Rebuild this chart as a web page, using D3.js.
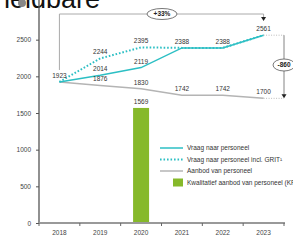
<!DOCTYPE html>
<html>
<head>
<meta charset="utf-8">
<script src="https://cdn.jsdelivr.net/npm/d3@7"></script>
<style>
  body { margin: 0; background: white; }
  svg { display: block; }
</style>
</head>
<body>
<div id="app"></div>
<script>
const WIDTH = 293
const HEIGHT = 240

const years = ['2018', '2019', '2020', '2021', '2022', '2023']
const vraag = [1923, 2014, 2119, 2388, 2388, 2561]
const vraagGrit = [1923, 2244, 2395, 2388, 2388, 2561]
const aanbod = [1923, 1876, 1830, 1742, 1742, 1700]
const kwalitatief = [null, null, 1569, null, null, null]
const yTicks = [0, 500, 1000, 1500, 2000, 2500]
const growthLabel = '+33%'
const gapLabel = '-860'

// which values get a label, per series
const vraagLabels = [false, true, true, false, false, false]
const gritLabels = [true, true, true, true, true, true]
const aanbodLabels = [false, true, true, true, true, true]

const legendItems = [
  { name: 'Vraag naar personeel', type: 'line' },
  { name: 'Vraag naar personeel incl. GRIT¹', type: 'dots' },
  { name: 'Aanbod van personeel', type: 'grey' },
  { name: 'Kwalitatief aanbod van personeel (KPI)', type: 'bar' }
]

const TEAL = '#2cbfc4'
const GREY = '#b4b4b4'
const GREEN = '#86b92a'
const FONT = '"Liberation Sans", Arial, sans-serif'

const x = d3.scaleBand().domain(years).range([39, 284])
const y = d3.scaleLinear().domain([0, 3000]).range([223, 3])
const cx = d => x(d) + x.bandwidth() / 2

const svg = d3.select('#app').append('svg')
  .attr('width', WIDTH)
  .attr('height', HEIGHT)
  .style('font-family', FONT)

// clipped title from the slide above
svg.append('text')
  .attr('x', -5).attr('y', 8)
  .attr('font-size', 27)
  .attr('fill', '#111')
  .text('neldbare')
svg.append('circle')
  .attr('cx', 22).attr('cy', 3).attr('r', 4)
  .attr('fill', '#888')

// bar
svg.append('g').selectAll('rect')
  .data(years.map((yr, i) => ({ yr, v: kwalitatief[i] })).filter(d => d.v != null))
  .enter().append('rect')
  .attr('x', d => cx(d.yr) - 8)
  .attr('width', 16)
  .attr('y', d => y(d.v))
  .attr('height', d => y(0) - y(d.v))
  .attr('fill', GREEN)

// axes
const yAxis = svg.append('g')
  .attr('transform', 'translate(39,0)')
  .call(d3.axisLeft(y).tickValues(yTicks).tickFormat(d3.format('d')).tickSize(3).tickPadding(5))
yAxis.select('.domain').remove()
yAxis.selectAll('line').attr('stroke', '#555')
yAxis.selectAll('text').attr('font-size', 6.5).attr('fill', '#444').attr('font-family', FONT)
svg.append('line')
  .attr('x1', 39).attr('x2', 39).attr('y1', 0).attr('y2', 223)
  .attr('stroke', '#555').attr('stroke-width', 1.3)

const xAxis = svg.append('g')
  .attr('transform', 'translate(0,223)')
  .call(d3.axisBottom(x).tickSize(0).tickPadding(7))
xAxis.select('.domain').remove()
xAxis.selectAll('text').attr('font-size', 6.5).attr('fill', '#444').attr('font-family', FONT)
svg.append('line')
  .attr('x1', 39).attr('x2', 285).attr('y1', 223).attr('y2', 223)
  .attr('stroke', '#999').attr('stroke-width', 1.8)
svg.append('g').selectAll('line')
  .data(d3.range(years.length + 1))
  .enter().append('line')
  .attr('x1', i => 39 + i * x.step()).attr('x2', i => 39 + i * x.step())
  .attr('y1', 223).attr('y2', 226)
  .attr('stroke', '#666')

// lines
const line = d3.line().x((d, i) => cx(years[i])).y(d => y(d))
svg.append('path').attr('d', line(aanbod))
  .attr('fill', 'none').attr('stroke', GREY).attr('stroke-width', 1.5)
svg.append('path').attr('d', line(vraag))
  .attr('fill', 'none').attr('stroke', TEAL).attr('stroke-width', 1.5)
svg.append('path').attr('d', line(vraagGrit))
  .attr('fill', 'none').attr('stroke', TEAL).attr('stroke-width', 2)
  .attr('stroke-dasharray', '1.6 1.9')

// value labels
function labels(values, show) {
  svg.append('g').selectAll('text')
    .data(values.map((v, i) => ({ v, yr: years[i], show: show[i] })).filter(d => d.show))
    .enter().append('text')
    .attr('x', d => cx(d.yr))
    .attr('y', d => y(d.v) - 4)
    .attr('text-anchor', 'middle')
    .attr('font-size', 6.5)
    .attr('fill', '#333')
    .text(d => d.v)
}
labels(vraag, vraagLabels)
labels(vraagGrit, gritLabels)
labels(aanbod, aanbodLabels)
labels(kwalitatief, kwalitatief.map(v => v != null))

// +33% bracket
const x0 = cx(years[0]), x5 = cx(years[5])
svg.append('path')
  .attr('d', `M${x0},${y(vraagGrit[0]) - 12}V14H${x5}V17`)
  .attr('fill', 'none').attr('stroke', '#aaa').attr('stroke-width', 1)
svg.append('path')
  .attr('d', `M${x5 - 2.5},17L${x5 + 2.5},17L${x5},21Z`)
  .attr('fill', '#222')
svg.append('ellipse')
  .attr('cx', 162).attr('cy', 14).attr('rx', 15).attr('ry', 5.5)
  .attr('fill', 'white').attr('stroke', '#555').attr('stroke-width', 0.8)
svg.append('text')
  .attr('x', 162).attr('y', 16.3)
  .attr('text-anchor', 'middle').attr('font-size', 6.5).attr('font-weight', 'bold')
  .attr('fill', '#222')
  .text(growthLabel)

// gap annotation
const xg = 284
svg.append('g').selectAll('line')
  .data([vraagGrit[5], aanbod[5]])
  .enter().append('line')
  .attr('x1', x5).attr('x2', xg)
  .attr('y1', d => y(d)).attr('y2', d => y(d))
  .attr('stroke', '#bbb').attr('stroke-dasharray', '1 1.5')
svg.append('line')
  .attr('x1', xg).attr('x2', xg)
  .attr('y1', y(vraagGrit[5])).attr('y2', y(aanbod[5]) - 3)
  .attr('stroke', '#777').attr('stroke-width', 0.9)
svg.append('path')
  .attr('d', `M${xg - 2.5},${y(aanbod[5]) - 4}L${xg + 2.5},${y(aanbod[5]) - 4}L${xg},${y(aanbod[5])}Z`)
  .attr('fill', '#222')
svg.append('ellipse')
  .attr('cx', xg).attr('cy', 65).attr('rx', 11).attr('ry', 6)
  .attr('fill', 'white').attr('stroke', '#555').attr('stroke-width', 0.8)
svg.append('text')
  .attr('x', xg).attr('y', 67.3)
  .attr('text-anchor', 'middle').attr('font-size', 6.5).attr('font-weight', 'bold')
  .attr('fill', '#222')
  .text(gapLabel)

// legend
const legend = svg.append('g').selectAll('g')
  .data(legendItems)
  .enter().append('g')
  .attr('transform', (d, i) => `translate(160, ${148 + i * 11.5})`)
legend.filter(d => d.type !== 'bar').append('line')
  .attr('x1', 0).attr('x2', 23)
  .attr('stroke', d => d.type === 'grey' ? GREY : TEAL)
  .attr('stroke-width', d => d.type === 'dots' ? 2 : 1.5)
  .attr('stroke-dasharray', d => d.type === 'dots' ? '1.6 1.9' : null)
legend.filter(d => d.type === 'bar').append('rect')
  .attr('x', 13).attr('y', -4).attr('width', 10).attr('height', 8)
  .attr('fill', GREEN)
legend.append('text')
  .attr('x', 27).attr('y', 2.3)
  .attr('font-size', 6.5).attr('fill', '#333')
  .text(d => d.name)
</script>
</body>
</html>
